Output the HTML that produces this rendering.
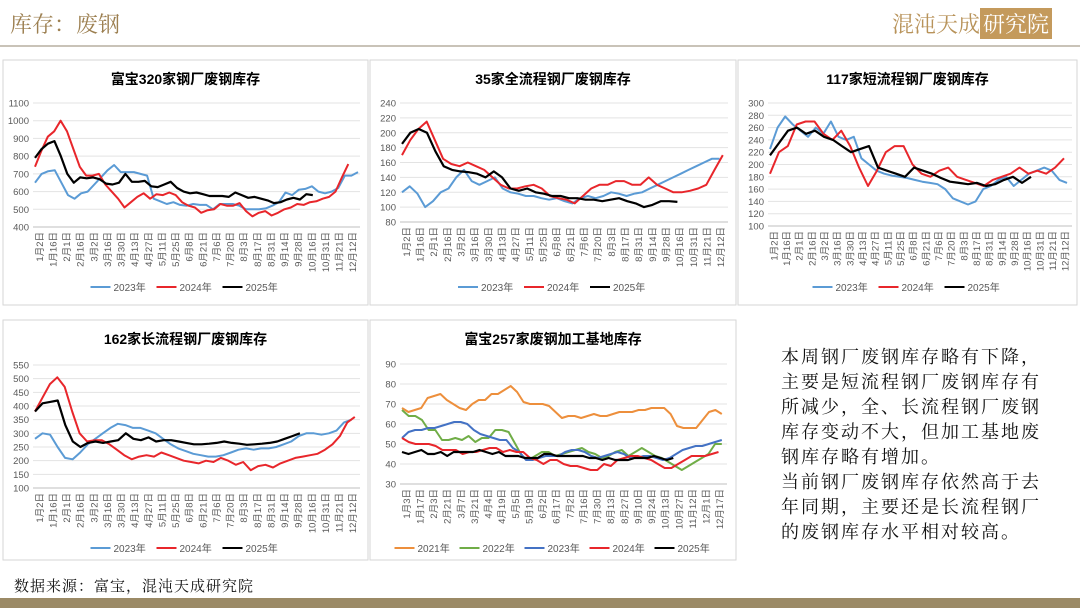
<!DOCTYPE html>
<html><head><meta charset="utf-8">
<style>
body{margin:0;width:1080px;height:608px;overflow:hidden;background:#fff;position:relative;font-family:"Liberation Sans","Noto Sans CJK SC",sans-serif;}
#t{position:absolute;left:10px;top:8px;font-size:22px;color:#9c7f50;font-family:"Noto Serif CJK SC",serif;}
#logo{position:absolute;right:28px;top:8px;font-size:22px;color:#b8935a;font-family:"Noto Serif CJK SC",serif;}
#logo span{background:#c49a5c;color:#fff;padding:0 3px;}
#hl{position:absolute;left:0;top:45px;width:1080px;height:2px;background:#c9c3b8;}
#txt{position:absolute;left:781px;top:344px;font-size:18px;line-height:25px;letter-spacing:2px;color:#111;font-family:"Noto Serif CJK SC",serif;}
#src{position:absolute;left:14px;top:575px;font-size:15px;color:#111;font-family:"Noto Serif CJK SC",serif;letter-spacing:1px;}
#bar{position:absolute;left:0;top:598px;width:1080px;height:10px;background:#9b8a66;}
svg{position:absolute;left:0;top:0;}
</style></head><body>
<div id="t">库存：废钢</div>
<div id="logo">混沌天成<span>研究院</span></div>
<div id="hl"></div>
<svg id="s" width="1080" height="608"></svg>
<div id="txt">本周钢厂废钢库存略有下降，<br>主要是短流程钢厂废钢库存有<br>所减少，全、长流程钢厂废钢<br>库存变动不大，但加工基地废<br>钢库存略有增加。<br>当前钢厂废钢库存依然高于去<br>年同期，主要还是长流程钢厂<br>的废钢库存水平相对较高。</div>
<div id="src">数据来源：富宝，混沌天成研究院</div>
<div id="bar"></div>
<script>
var L1=["1月2日","1月16日","2月1日","2月16日","3月2日","3月16日","3月30日","4月13日","4月27日","5月11日","5月25日","6月8日","6月21日","7月6日","7月20日","8月3日","8月17日","8月31日","9月14日","9月28日","10月16日","10月31日","11月21日","12月12日"];
var L5=["1月3日","1月17日","2月3日","2月21日","3月7日","3月21日","4月4日","4月19日","5月5日","5月19日","6月2日","6月17日","7月2日","7月16日","7月30日","8月13日","8月27日","9月10日","9月24日","10月13日","10月27日","11月12日","12月1日","12月17日"];
var B="#5b9bd5",R="#e8262b",K="#000",O="#ed8f3c",G="#70ad47",B2="#4472c4";
var charts=[
{b:[3,60,365,245],title:"富宝320家钢厂废钢库存",px:[33,360],py:[103,227],y:[400,1100,100],lab:L1,ly:287,
 s:[["2023年",B,[650,700,715,720,650,580,560,590,600,640,680,720,750,710,710,710,700,690,560,545,530,540,525,520,530,525,525,500,530,530,530,520,500,500,500,505,520,540,595,580,610,615,630,600,590,600,620,690,690,710],1],
 ["2024年",R,[740,830,910,940,1000,940,840,740,690,690,700,640,600,560,510,540,570,590,560,585,580,595,580,540,520,510,480,495,500,530,520,520,535,490,460,480,490,465,480,500,510,530,525,540,545,560,570,600,680,755],0.97],
 ["2025年",K,[790,840,870,885,800,700,650,680,675,680,670,645,640,650,700,655,655,660,630,625,640,655,620,600,590,595,585,575,575,575,570,595,580,565,570,560,550,535,540,555,565,555,585,580],0.86]]},
{b:[370,60,366,245],title:"35家全流程钢厂废钢库存",px:[400,728],py:[103,222],y:[80,240,20],lab:L1,ly:287,
 s:[["2023年",B,[120,128,118,100,108,120,125,140,150,135,130,135,140,125,120,118,115,115,112,110,112,108,105,112,115,112,115,120,118,115,118,120,125,130,135,140,145,150,155,160,165,165],0.98],
 ["2024年",R,[170,190,205,215,190,165,158,155,160,155,150,140,130,125,125,128,130,125,115,112,110,105,115,125,130,130,135,135,130,130,140,130,125,120,120,122,125,130,150,170],0.99],
 ["2025年",K,[185,200,205,200,175,155,150,148,147,145,140,148,140,125,122,125,120,118,115,115,112,112,110,110,108,110,112,108,105,100,103,108,108,107],0.85]]},
{b:[738,60,339,245],title:"117家短流程钢厂废钢库存",px:[768,1072],py:[103,226],y:[100,300,20],lab:L1,ly:287,
 s:[["2023年",B,[225,260,278,265,255,245,260,250,270,245,240,245,210,200,190,185,182,180,178,175,172,170,168,160,145,140,135,140,160,165,175,180,165,175,185,190,195,190,175,170],0.99],
 ["2024年",R,[185,220,230,265,270,270,250,240,255,230,195,165,190,220,230,230,200,185,180,190,195,180,175,170,165,175,180,185,195,185,190,185,195,210],0.98],
 ["2025年",K,[215,235,255,260,250,255,245,240,230,220,225,230,195,190,185,180,195,190,185,178,172,170,168,170,165,168,175,180,170,180],0.87]]},
{b:[3,320,365,240],title:"162家长流程钢厂废钢库存",px:[33,360],py:[365,488],y:[100,550,50],lab:L1,ly:548,
 s:[["2023年",B,[280,300,295,250,210,205,230,260,280,300,320,335,330,320,320,310,300,280,260,245,235,225,220,215,215,220,230,240,245,240,245,245,250,260,270,290,300,300,295,300,310,340,350],0.98],
 ["2024年",R,[380,430,480,505,470,380,300,270,275,275,260,240,220,205,215,220,215,230,220,210,200,195,190,200,195,210,200,185,195,165,180,185,175,190,200,210,215,220,225,240,260,290,340,360],0.99],
 ["2025年",K,[380,410,415,420,330,270,250,265,270,265,270,275,300,280,275,285,270,275,275,270,265,260,260,262,265,270,265,262,258,260,262,265,270,280,290,300],0.82]]},
{b:[370,320,366,240],title:"富宝257家废钢加工基地库存",px:[400,727],py:[364,484],y:[30,90,10],lab:L5,ly:548,
 s:[["2021年",O,[68,66,67,68,73,74,75,72,70,68,67,70,72,72,75,75,77,79,76,71,70,70,70,69,66,63,64,64,63,64,65,64,64,65,66,66,66,67,67,68,68,68,65,59,58,58,58,62,66,67,65],0.99],
 ["2022年",G,[67,64,64,62,57,57,52,52,53,52,54,51,53,53,57,57,56,50,44,42,44,46,46,44,45,46,47,48,46,45,43,44,46,47,44,46,48,46,44,43,41,39,37,39,41,43,45,50,50],0.99],
 ["2023年",B2,[53,56,57,57,58,58,59,60,61,61,60,57,55,54,53,52,52,48,46,42,42,43,44,44,44,46,47,47,46,44,43,44,45,46,45,43,43,44,44,43,42,43,45,47,48,49,49,50,51,52],0.99],
 ["2024年",R,[53,51,50,50,50,49,47,47,47,45,46,46,47,48,48,46,47,46,46,43,42,40,42,42,40,39,39,38,37,37,40,39,42,43,44,44,43,42,40,38,38,40,42,44,44,44,45,46],0.98],
 ["2025年",K,[46,45,46,47,45,45,46,44,46,46,46,46,47,46,45,46,44,44,44,43,43,43,45,45,44,44,44,44,44,43,43,42,43,42,42,42,43,43,43,44,43,42,43],0.84]]}
];
var h="";
charts.forEach(function(c){
 var b=c.b;h+='<rect x="'+b[0]+'" y="'+b[1]+'" width="'+b[2]+'" height="'+b[3]+'" fill="#fff" stroke="#d6d6d6"/>';
 h+='<text x="'+(b[0]+b[2]/2)+'" y="'+(b[1]+24)+'" text-anchor="middle" font-size="14" font-weight="bold" font-family="Liberation Sans,Noto Sans CJK SC,sans-serif">'+c.title+'</text>';
 var x0=c.px[0],x1=c.px[1],yt=c.py[0],yb=c.py[1],lo=c.y[0],hi=c.y[1],st=c.y[2];
 function Y(v){return yb-(v-lo)/(hi-lo)*(yb-yt);}
 for(var v=lo;v<=hi+1e-6;v+=st){var yy=Y(v);h+='<line x1="'+x0+'" x2="'+x1+'" y1="'+yy+'" y2="'+yy+'" stroke="'+(v==lo?'#bfbfbf':'#e3e3e3')+'"/>';
  h+='<text x="'+(x0-4)+'" y="'+(yy+3.5)+'" text-anchor="end" font-size="9.5" fill="#595959">'+v+'</text>';}
 var n=c.lab.length,dx=(x1-x0)/n;
 c.lab.forEach(function(l,i){var xx=x0+dx*(i+0.5)+3;h+='<text transform="translate('+xx+','+(yb+5)+') rotate(-90)" text-anchor="end" font-size="9.5" fill="#595959">'+l+'</text>';});
 c.s.forEach(function(s){var W=(x1-x0-4)*s[3],m=s[2].length-1;var p=s[2].map(function(v,i){return (x0+2+i*W/m).toFixed(1)+','+Y(v).toFixed(1);}).join(' ');
  h+='<polyline points="'+p+'" fill="none" stroke="'+s[1]+'" stroke-width="'+(s[1]==K?2.2:2)+'" stroke-linejoin="round"/>';});
 var ns=c.s.length,iw=ns==5?65:66,lx=b[0]+b[2]/2-ns*iw/2+4;
 c.s.forEach(function(s,i){var xx=lx+i*iw;h+='<line x1="'+xx+'" x2="'+(xx+20)+'" y1="'+c.ly+'" y2="'+c.ly+'" stroke="'+s[1]+'" stroke-width="2"/>';
  h+='<text x="'+(xx+23)+'" y="'+(c.ly+4)+'" font-size="10" fill="#595959">'+s[0]+'</text>';});
});
document.getElementById("s").innerHTML=h;
</script>
</body></html>
